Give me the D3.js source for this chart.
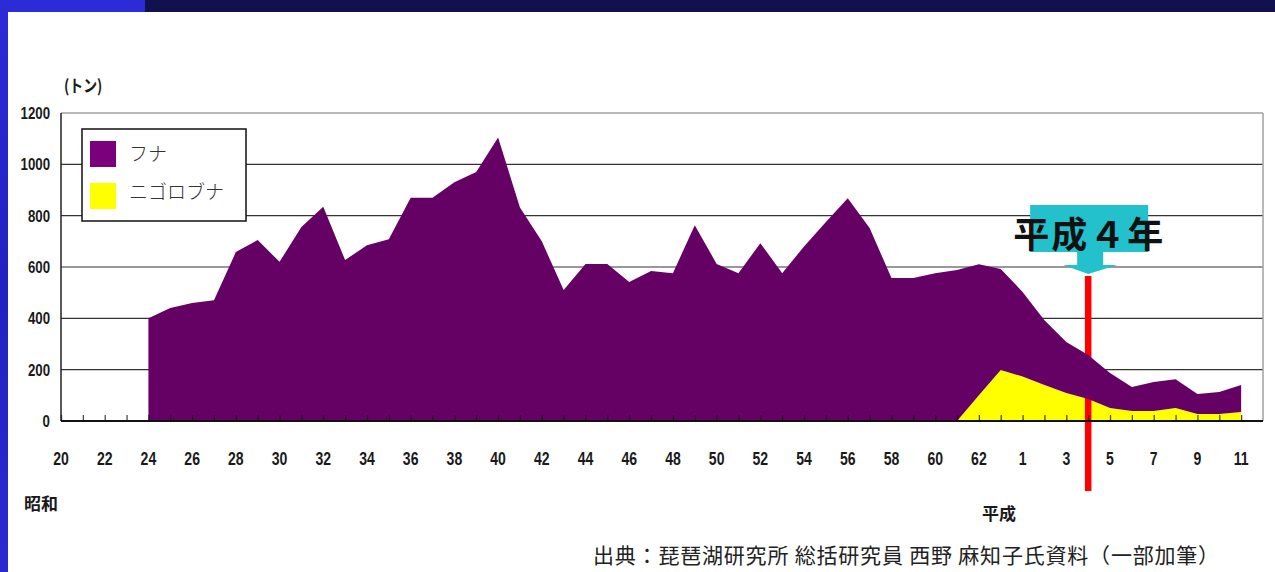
<!DOCTYPE html>
<html>
<head>
<meta charset="utf-8">
<script src="https://cdn.jsdelivr.net/npm/d3@7"></script>
<style>
  html, body { margin: 0; padding: 0; background: #fff; }
  svg { display: block; }
  .num { font-family: "Liberation Sans", Arial, sans-serif; font-weight: bold; fill: #1a1a1a; }
  .jp { font-family: "Noto Sans CJK JP", "Noto Sans", sans-serif; }
</style>
</head>
<body>
<svg id="chart" width="1275" height="572"></svg>
<script>
// Year categories: Showa 20–63, then Heisei 1–11
const categories = [
  "S20","S21","S22","S23","S24","S25","S26","S27","S28","S29",
  "S30","S31","S32","S33","S34","S35","S36","S37","S38","S39",
  "S40","S41","S42","S43","S44","S45","S46","S47","S48","S49",
  "S50","S51","S52","S53","S54","S55","S56","S57","S58","S59",
  "S60","S61","S62","S63",
  "H1","H2","H3","H4","H5","H6","H7","H8","H9","H10","H11"
];

// Catch of crucian carp (フナ), tonnes — S20–S23 have no record
const funa = [
  null, null, null, null, 400, 440, 460, 470, 658, 705,
  620, 756, 835, 627, 685, 708, 870, 870, 930, 970,
  1105, 832, 700, 510, 612, 612, 542, 584, 576, 763,
  612, 576, 693, 576, 680, 775, 868, 752, 557, 557,
  576, 588, 611, 592,
  503, 393, 308, 257, 187, 132, 152, 163, 105, 113, 140
];

// Of which nigorobuna (ニゴロブナ), tonnes — recorded from S61
const nigorobuna = [
  null, null, null, null, null, null, null, null, null, null,
  null, null, null, null, null, null, null, null, null, null,
  null, null, null, null, null, null, null, null, null, null,
  null, null, null, null, null, null, null, null, null, null,
  null, 0, 100, 199,
  173, 140, 109, 86, 51, 39, 39, 51, 27, 27, 35
];

const yTicks = [0, 200, 400, 600, 800, 1000, 1200];
const xTickLabels = {
  S20:"20", S22:"22", S24:"24", S26:"26", S28:"28", S30:"30", S32:"32", S34:"34",
  S36:"36", S38:"38", S40:"40", S42:"42", S44:"44", S46:"46", S48:"48", S50:"50",
  S52:"52", S54:"54", S56:"56", S58:"58", S60:"60", S62:"62",
  H1:"1", H3:"3", H5:"5", H7:"7", H9:"9", H11:"11"
};
const seriesNames = ["フナ", "ニゴロブナ"];
const markerYear = "H4";
const markerLabel = "平成４年";
const eraShowa = "昭和";
const eraHeisei = "平成";
const unitLabel = "(トン)";
const sourceNote = "出典：琵琶湖研究所 総括研究員 西野 麻知子氏資料（一部加筆）";

const colors = { funa: "#650065", funaKey: "#7b007b", nigoro: "#ffff00", marker: "#ff0000", callout: "#22c1cc" };

const svg = d3.select("#chart");
const W = 1275, H = 572;
const plot = { left: 61, right: 1263, top: 113, bottom: 421 };
const NARROW = 0.78; // horizontal squeeze for the condensed numeric labels

// ---- slide frame ----
const frame = svg.append("g");
frame.append("rect").attr("x", 0).attr("y", 0).attr("width", W).attr("height", 12).attr("fill", "#111150");
frame.append("rect").attr("x", 0).attr("y", 0).attr("width", 145).attr("height", 12).attr("fill", "#2b2bd8");
const sideGrad = svg.append("defs").append("linearGradient")
  .attr("id", "side").attr("x1", 0).attr("y1", 0).attr("x2", 0).attr("y2", 1);
sideGrad.append("stop").attr("offset", "0%").attr("stop-color", "#2b2bd8");
sideGrad.append("stop").attr("offset", "50%").attr("stop-color", "#2222c0");
sideGrad.append("stop").attr("offset", "100%").attr("stop-color", "#2a2ad0");
frame.append("rect").attr("x", 0).attr("y", 0).attr("width", 8).attr("height", H).attr("fill", "url(#side)");

// ---- scales ----
const x = d3.scalePoint().domain(categories).range([plot.left, plot.right]).padding(0.5).align(0);
const y = d3.scaleLinear().domain([0, 1200]).range([plot.bottom, plot.top]);

const rows = categories.map((c, i) => ({ cat: c, funa: funa[i], nigoro: nigorobuna[i] }));

// ---- grid ----
const grid = svg.append("g");
grid.selectAll("line.g").data(yTicks.filter(t => t > 0 && t < 1200)).join("line")
  .attr("x1", plot.left).attr("x2", plot.right)
  .attr("y1", d => y(d)).attr("y2", d => y(d))
  .attr("stroke", "#333").attr("stroke-width", 1.2);
grid.append("line").attr("x1", plot.left).attr("x2", plot.right)
  .attr("y1", y(1200)).attr("y2", y(1200)).attr("stroke", "#a0a0a0").attr("stroke-width", 1.5);
grid.append("line").attr("x1", plot.right).attr("x2", plot.right)
  .attr("y1", y(1200)).attr("y2", y(0)).attr("stroke", "#a0a0a0").attr("stroke-width", 1.5);

// ---- nigorobuna area (bottom layer) ----
const nigoroArea = d3.area()
  .defined(d => d.nigoro != null)
  .x(d => x(d.cat)).y0(y(0)).y1(d => y(d.nigoro));
svg.append("path").datum(rows).attr("d", nigoroArea).attr("fill", colors.nigoro);

// ---- marker line for H4 ----
const mx = x(markerYear);
svg.append("line").attr("x1", mx).attr("x2", mx).attr("y1", 276).attr("y2", 491)
  .attr("stroke", colors.marker).attr("stroke-width", 6.5);

// ---- funa band (drawn above nigorobuna) ----
const funaArea = d3.area()
  .defined(d => d.funa != null)
  .x(d => x(d.cat)).y0(d => y(d.nigoro == null ? 0 : d.nigoro)).y1(d => y(d.funa));
svg.append("path").datum(rows).attr("d", funaArea).attr("fill", colors.funa);

// ---- axes ----
const axisG = svg.append("g");
axisG.append("line").attr("x1", plot.left).attr("x2", plot.left)
  .attr("y1", y(1200)).attr("y2", y(0)).attr("stroke", "#222").attr("stroke-width", 1.5);
axisG.append("line").attr("x1", plot.left).attr("x2", plot.right)
  .attr("y1", y(0)).attr("y2", y(0)).attr("stroke", "#111").attr("stroke-width", 1.8);

const xAxis = d3.axisBottom(x).tickSizeInner(-6).tickSizeOuter(0).tickFormat("");
const xg = axisG.append("g").attr("transform", `translate(0,${y(0)})`).call(xAxis);
xg.select(".domain").remove();
xg.selectAll(".tick line").attr("stroke", "#111").attr("stroke-width", 1.3).attr("opacity", 0.75);

// x labels, squeezed horizontally
axisG.selectAll("g.xl").data(categories.filter(c => xTickLabels[c])).join("g")
  .attr("transform", d => `translate(${x(d)},465) scale(${NARROW},1)`)
  .append("text").attr("class", "num").attr("text-anchor", "middle")
  .attr("font-size", 18).text(d => xTickLabels[d]);

// y labels, squeezed horizontally
axisG.selectAll("g.yl").data(yTicks).join("g")
  .attr("transform", d => `translate(${plot.left - 11},${y(d)}) scale(${NARROW},1)`)
  .append("text").attr("class", "num").attr("text-anchor", "end").attr("dy", "0.36em")
  .attr("font-size", 17).text(d3.format("d"));

// ---- labels ----
svg.append("g").attr("transform", `translate(64,92) scale(0.82,1)`)
  .append("text").attr("class", "jp")
  .attr("font-size", 17).attr("font-weight", "bold").attr("fill", "#1a1a1a").text(unitLabel);
svg.append("text").attr("class", "jp").attr("x", 24).attr("y", 510)
  .attr("font-size", 17).attr("font-weight", "bold").attr("fill", "#1a1a1a").text(eraShowa);
svg.append("text").attr("class", "jp").attr("x", 982).attr("y", 520)
  .attr("font-size", 17).attr("font-weight", "bold").attr("fill", "#1a1a1a").text(eraHeisei);
svg.append("text").attr("class", "jp").attr("x", 593).attr("y", 563)
  .attr("font-size", 21).attr("letter-spacing", 0.8).attr("fill", "#222").text(sourceNote);

// ---- legend ----
const lg = svg.append("g");
lg.append("rect").attr("x", 82).attr("y", 129).attr("width", 164).attr("height", 92)
  .attr("fill", "#fff").attr("stroke", "#111").attr("stroke-width", 1.5);
const keyColors = [colors.funaKey, colors.nigoro];
seriesNames.forEach((name, i) => {
  lg.append("rect").attr("x", 90).attr("y", 141 + i * 42).attr("width", 26).attr("height", 26)
    .attr("fill", keyColors[i]);
  lg.append("text").attr("class", "jp").attr("x", 129).attr("y", 161 + i * 38)
    .attr("font-size", 19).attr("font-weight", 300).attr("fill", "#333").text(name);
});

// ---- H4 callout ----
const cy0 = 205, cy1 = 252, cy2 = 265, tip = 274;
const callout = d3.path();
callout.moveTo(mx - 58, cy0);
callout.lineTo(mx + 60, cy0);
callout.lineTo(mx + 60, cy1);
callout.lineTo(mx + 15, cy1);
callout.lineTo(mx + 15, cy2);
callout.lineTo(mx + 29, cy2);
callout.lineTo(mx, tip);
callout.lineTo(mx - 25, cy2);
callout.lineTo(mx - 11, cy2);
callout.lineTo(mx - 11, cy1);
callout.lineTo(mx - 58, cy1);
callout.closePath();
svg.append("path").attr("d", callout.toString()).attr("fill", colors.callout);
svg.append("text").attr("class", "jp").attr("x", mx + 1).attr("y", 248)
  .attr("text-anchor", "middle").attr("font-size", 36).attr("font-weight", "bold")
  .attr("letter-spacing", 2).attr("fill", "#111").text(markerLabel);
</script>
</body>
</html>
